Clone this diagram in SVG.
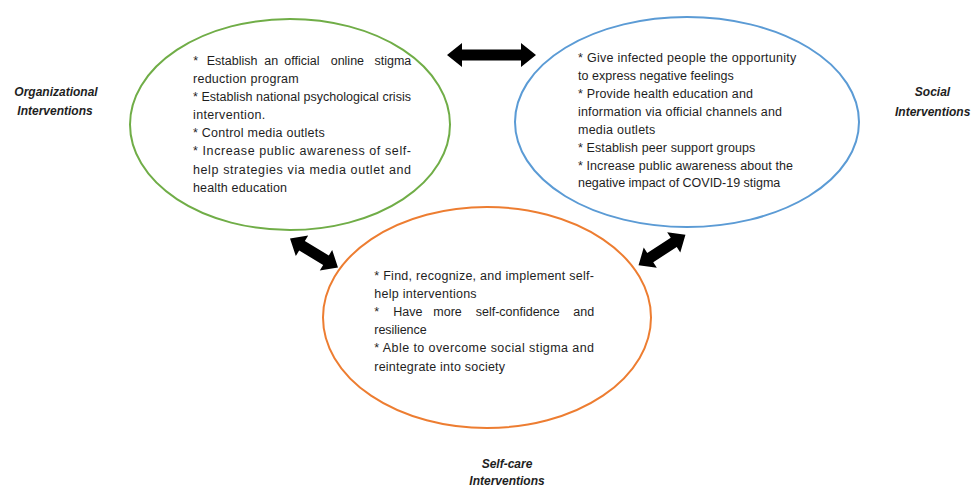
<svg xmlns="http://www.w3.org/2000/svg" width="972" height="489" viewBox="0 0 972 489">
<style>
.ell{fill:none;stroke-width:2}
.t{font-family:"Liberation Sans",Arial,sans-serif;font-size:12.5px;fill:#1e1e1e}
.lbl{font-family:"Liberation Sans",Arial,sans-serif;font-size:12px;font-weight:bold;font-style:italic;fill:#1e1e1e;text-anchor:middle}
.arr{fill:#000}
</style>
<rect width="972" height="489" fill="#fff"/>
<g id="organizational">
<ellipse class="ell" cx="290" cy="124.5" rx="160" ry="105.5" stroke="#70AD47"/>
<text class="t" y="64.7"><tspan x="193.3">*</tspan> <tspan x="206.7">Establish</tspan> <tspan x="264.3">an</tspan> <tspan x="284.3">official</tspan> <tspan x="330.7">online</tspan> <tspan x="374.5">stigma</tspan></text>
<text class="t" lengthAdjust="spacing">
<tspan x="193" y="82.8" textLength="105.7">reduction program</tspan>
<tspan x="193" y="101" textLength="218">* Establish national psychological crisis</tspan>
<tspan x="193" y="119.1" textLength="72.3">intervention.</tspan>
<tspan x="193" y="137.2" textLength="131.7">* Control media outlets</tspan>
<tspan x="193" y="155.3" textLength="218">* Increase public awareness of self-</tspan>
<tspan x="193" y="173.5" textLength="218">help strategies via media outlet and</tspan>
<tspan x="193" y="191.6" textLength="94">health education</tspan>
</text>
<text class="lbl"><tspan x="56" y="95.5">Organizational</tspan><tspan x="55" y="114.5">Interventions</tspan></text>
</g>
<g id="social">
<ellipse class="ell" cx="687" cy="122" rx="172" ry="105" stroke="#5B9BD5"/>
<text class="t" lengthAdjust="spacing">
<tspan x="578" y="62.3" textLength="218.3">* Give infected people the opportunity</tspan>
<tspan x="578" y="80.2" textLength="155.7">to express negative feelings</tspan>
<tspan x="578" y="98" textLength="175">* Provide health education and</tspan>
<tspan x="578" y="115.9" textLength="204">information via official channels and</tspan>
<tspan x="578" y="133.7" textLength="77.3">media outlets</tspan>
<tspan x="578" y="151.6" textLength="177.3">* Establish peer support groups</tspan>
<tspan x="578" y="169.5" textLength="215">* Increase public awareness about the</tspan>
<tspan x="578" y="187.3" textLength="202.3">negative impact of COVID-19 stigma</tspan>
</text>
<text class="lbl"><tspan x="932.5" y="96">Social</tspan><tspan x="932.7" y="115.5">Interventions</tspan></text>
</g>
<g id="selfcare">
<ellipse class="ell" cx="487" cy="317.5" rx="164" ry="110.5" stroke="#ED7D31"/>
<text class="t" lengthAdjust="spacing">
<tspan x="374.3" y="280" textLength="219.7">* Find, recognize, and implement self-</tspan>
<tspan x="374.3" y="298.1" textLength="102.3">help interventions</tspan>
</text>
<text class="t" y="316.2"><tspan x="374.3">*</tspan> <tspan x="393.3">Have</tspan> <tspan x="433.3">more</tspan> <tspan x="475.7">self-confidence</tspan> <tspan x="573.3">and</tspan></text>
<text class="t" lengthAdjust="spacing">
<tspan x="374.3" y="334.3" textLength="52.3">resilience</tspan>
<tspan x="374.3" y="352.4" textLength="219.7">* Able to overcome social stigma and</tspan>
<tspan x="374.3" y="370.5" textLength="130.7">reintegrate into society</tspan>
</text>
<text class="lbl"><tspan x="507" y="467.5">Self-care</tspan><tspan x="507" y="485">Interventions</tspan></text>
</g>
<g id="connectors">
<path class="arr" transform="translate(491.5,55)" d="M-44.5,0 L-29.5,-12 L-29.5,-5.5 L29.5,-5.5 L29.5,-12 L44.5,0 L29.5,12 L29.5,5.5 L-29.5,5.5 L-29.5,12 Z"/>
<path class="arr" transform="translate(314,253) rotate(31.1)" d="M-28,0 L-14,-12 L-14,-5.5 L14,-5.5 L14,-12 L28,0 L14,12 L14,5.5 L-14,5.5 L-14,12 Z"/>
<path class="arr" transform="translate(662,250) rotate(-33.1)" d="M-28,0 L-14,-12 L-14,-5.5 L14,-5.5 L14,-12 L28,0 L14,12 L14,5.5 L-14,5.5 L-14,12 Z"/>
</g>
</svg>
